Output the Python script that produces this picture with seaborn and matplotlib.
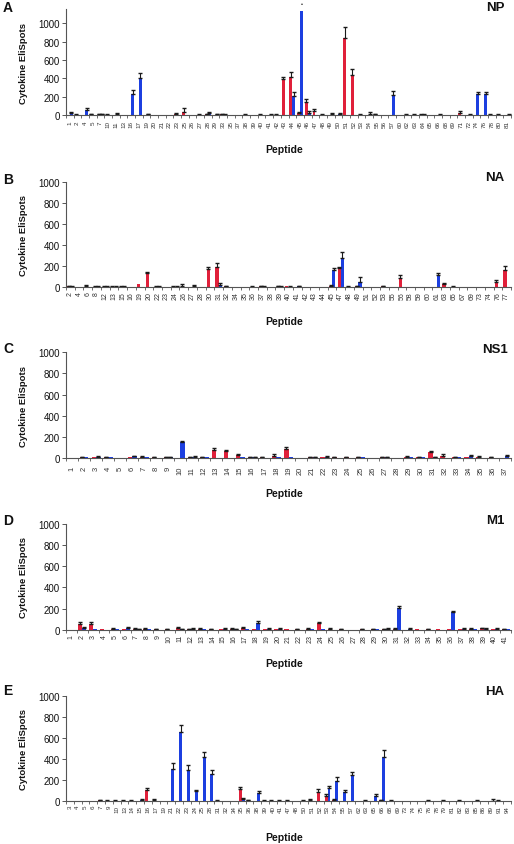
import numpy as np
import pandas as pd
import matplotlib
matplotlib.use("Agg")
import matplotlib.pyplot as plt
from matplotlib.ticker import FixedLocator
import seaborn as sns

# ---------------- DATA ----------------
np_labels = [1, 2, 4, 5, 7, 10, 11, 13, 16, 17, 19, 20, 21, 22, 23, 25, 26, 27, 28, 29,
             33, 35, 37, 38, 39, 40, 41, 42, 43, 44, 45, 46, 47, 48, 49, 50, 51, 52, 53, 54,
             55, 56, 57, 60, 62, 63, 64, 65, 66, 68, 69, 71, 72, 74, 76, 78, 80, 81]
np_red = [5, 5, 5, 10, 10, 5, 0, 0, 0, 0, 5, 0, 0, 0, 10, 40, 0, 5, 10, 5,
          10, 0, 0, 5, 0, 5, 5, 5, 390, 420, 25, 145, 50, 5, 0, 0, 845, 435, 5, 0,
          10, 0, 0, 0, 5, 5, 5, 0, 0, 0, 5, 20, 0, 0, 0, 5, 5, 0]
np_red_err = [0, 5, 0, 5, 5, 5, 0, 0, 0, 0, 0, 0, 0, 0, 10, 35, 0, 5, 5, 0,
              5, 0, 0, 10, 0, 5, 0, 5, 30, 50, 10, 35, 15, 5, 0, 0, 110, 65, 5, 0,
              5, 0, 0, 0, 5, 5, 5, 0, 0, 0, 0, 30, 0, 0, 0, 5, 5, 0]
np_blue = [20, 0, 60, 5, 10, 5, 10, 0, 230, 400, 10, 0, 0, 0, 5, 5, 0, 5, 20, 10,
           5, 0, 0, 5, 0, 0, 5, 0, 0, 210, 1130, 30, 5, 5, 10, 10, 0, 0, 0, 15,
           0, 5, 217, 0, 5, 0, 5, 0, 5, 0, 0, 0, 5, 228, 228, 0, 0, 5]
np_blue_err = [12, 0, 20, 0, 5, 0, 15, 0, 45, 65, 5, 0, 0, 0, 0, 0, 0, 0, 15, 5,
               5, 0, 0, 0, 0, 0, 5, 0, 0, 45, 0, 15, 0, 0, 10, 10, 0, 0, 0, 25,
               0, 0, 48, 0, 0, 0, 5, 0, 5, 0, 0, 0, 10, 25, 27, 0, 0, 5]

na_labels = [2, 4, 6, 8, 12, 13, 15, 16, 19, 20, 22, 23, 24, 26, 27, 28, 30, 31, 32, 34,
             35, 36, 37, 38, 39, 40, 41, 42, 43, 44, 45, 47, 48, 49, 51, 52, 53, 55, 56, 58,
             59, 60, 61, 63, 65, 67, 69, 73, 74, 76, 77]
na_red = [10, 0, 10, 5, 5, 5, 5, 0, 30, 135, 5, 0, 5, 15, 0, 5, 170, 190, 10, 0,
          0, 5, 10, 0, 10, 10, 0, 5, 0, 0, 10, 180, 5, 10, 0, 0, 10, 0, 88, 0,
          0, 0, 0, 30, 5, 0, 0, 0, 5, 50, 168]
na_red_err = [5, 0, 15, 5, 5, 5, 5, 0, 0, 15, 5, 0, 5, 15, 0, 0, 25, 45, 5, 0,
              0, 5, 5, 0, 5, 0, 0, 0, 0, 0, 10, 15, 5, 5, 0, 0, 5, 0, 30, 0,
              0, 0, 0, 15, 5, 0, 0, 0, 0, 22, 38]
na_blue = [5, 0, 5, 5, 5, 5, 5, 0, 0, 0, 5, 0, 5, 0, 10, 5, 0, 20, 5, 0,
           0, 5, 5, 0, 5, 5, 10, 0, 0, 0, 165, 276, 5, 54, 0, 0, 5, 0, 0, 0,
           0, 0, 117, 0, 5, 0, 0, 0, 5, 0, 0]
na_blue_err = [5, 0, 0, 5, 5, 5, 5, 0, 0, 0, 5, 0, 5, 0, 15, 0, 0, 18, 0, 0,
               0, 0, 5, 0, 5, 5, 5, 0, 0, 0, 20, 57, 0, 40, 0, 0, 0, 0, 0, 0,
               0, 0, 16, 0, 0, 0, 0, 0, 0, 0, 0]

ns1_labels = list(range(1, 38))
ns1_red = [0, 5, 5, 5, 0, 5, 10, 5, 5, 0, 5, 5, 76, 65, 30, 5, 5, 20, 85, 0,
           5, 5, 5, 5, 5, 0, 5, 0, 10, 5, 54, 20, 5, 5, 10, 5, 0]
ns1_red_err = [0, 5, 0, 5, 0, 0, 5, 5, 5, 0, 5, 5, 16, 12, 10, 5, 5, 15, 22, 0,
               5, 0, 5, 5, 5, 0, 5, 0, 10, 5, 15, 15, 5, 0, 10, 5, 0]
ns1_blue = [0, 5, 10, 5, 0, 15, 5, 0, 5, 150, 10, 5, 0, 0, 5, 5, 0, 5, 5, 0,
            5, 10, 0, 0, 5, 0, 5, 0, 5, 5, 5, 0, 5, 15, 0, 0, 15]
ns1_blue_err = [0, 0, 5, 0, 0, 5, 0, 0, 5, 15, 5, 0, 0, 0, 0, 5, 0, 0, 0, 0,
                5, 10, 0, 0, 0, 0, 5, 0, 0, 0, 5, 0, 0, 10, 0, 0, 15]

m1_labels = list(range(1, 42))
m1_red = [0, 55, 50, 5, 10, 5, 10, 10, 5, 5, 15, 5, 10, 5, 5, 10, 15, 5, 5, 5,
          5, 5, 10, 60, 10, 5, 0, 5, 5, 5, 10, 0, 5, 5, 5, 5, 5, 10, 15, 5, 5]
m1_red_err = [0, 15, 20, 0, 10, 0, 10, 10, 5, 5, 10, 5, 5, 5, 0, 5, 15, 0, 0, 0,
              0, 5, 5, 16, 10, 5, 0, 5, 5, 5, 10, 0, 0, 5, 0, 0, 0, 5, 5, 0, 5]
m1_blue = [0, 15, 10, 0, 5, 15, 5, 5, 0, 0, 5, 10, 5, 0, 10, 5, 5, 63, 10, 10,
           0, 0, 5, 5, 0, 0, 0, 0, 5, 10, 210, 10, 0, 0, 0, 163, 10, 5, 10, 10, 5]
m1_blue_err = [0, 10, 0, 0, 0, 15, 5, 0, 0, 0, 5, 10, 0, 0, 10, 5, 0, 19, 10, 10,
               0, 0, 0, 0, 0, 0, 0, 0, 0, 10, 17, 10, 0, 0, 0, 13, 10, 0, 5, 10, 0]

ha_labels = [3, 4, 5, 6, 7, 9, 10, 13, 14, 15, 16, 17, 19, 21, 22, 23, 24, 25, 28, 31,
             32, 34, 35, 36, 38, 39, 40, 41, 47, 48, 50, 51, 52, 53, 54, 55, 57, 62, 63, 65,
             66, 68, 69, 73, 74, 75, 76, 78, 79, 81, 82, 83, 85, 86, 89, 91, 94]
ha_red = [0, 3, 0, 0, 10, 5, 5, 5, 5, 0, 107, 10, 0, 0, 0, 0, 0, 0, 0, 5,
          0, 0, 117, 10, 0, 5, 5, 5, 5, 0, 5, 10, 91, 53, 10, 0, 0, 0, 5, 0,
          10, 0, 0, 0, 0, 0, 5, 0, 5, 0, 5, 0, 0, 0, 0, 5, 0]
ha_red_err = [0, 0, 0, 0, 5, 5, 5, 5, 5, 0, 16, 10, 0, 0, 0, 0, 0, 0, 0, 5,
              0, 0, 15, 5, 0, 5, 5, 5, 5, 0, 5, 15, 22, 16, 10, 0, 0, 0, 5, 0,
              5, 0, 0, 0, 0, 0, 5, 0, 5, 0, 5, 0, 0, 0, 0, 5, 0]
ha_blue = [0, 0, 0, 0, 5, 0, 5, 5, 0, 10, 5, 0, 0, 306, 653, 296, 95, 422, 258, 0,
           0, 0, 20, 5, 82, 0, 5, 0, 0, 0, 0, 0, 0, 126, 189, 91, 249, 0, 0, 50,
           422, 5, 0, 0, 0, 0, 0, 0, 0, 0, 0, 0, 5, 0, 5, 0, 0]
ha_blue_err = [0, 0, 0, 0, 0, 0, 0, 0, 0, 15, 0, 0, 0, 53, 72, 50, 15, 48, 38, 0,
               0, 0, 10, 0, 13, 0, 0, 0, 0, 0, 0, 0, 0, 16, 38, 16, 31, 0, 0, 19,
               63, 10, 0, 0, 0, 0, 0, 0, 0, 0, 0, 0, 10, 0, 15, 0, 0]

panel_letters = ["A", "B", "C", "D", "E"]
panel_titles = ["NP", "NA", "NS1", "M1", "HA"]
y_ticks = [0, 200, 400, 600, 800, 1000]
series_names = ["red", "blue"]
# --------------------------------------

RED = "#e0203a"
BLUE = "#1c3fe0"

sns.set_theme(style="white")
plt.rcParams['font.family'] = ['Liberation Sans', 'DejaVu Sans']

W, H = 514, 845
fig = plt.figure(figsize=(W / 100, H / 100), dpi=100)

datasets = [
    (np_labels, np_red, np_red_err, np_blue, np_blue_err),
    (na_labels, na_red, na_red_err, na_blue, na_blue_err),
    (ns1_labels, ns1_red, ns1_red_err, ns1_blue, ns1_blue_err),
    (m1_labels, m1_red, m1_red_err, m1_blue, m1_blue_err),
    (ha_labels, ha_red, ha_red_err, ha_blue, ha_blue_err),
]
# layout in pixels: (axis bottom, axis top, letter y, title y, xlabel y)
layout = [
    (116.3, 10.0, 8, 8, 150),
    (288.3, 183.3, 180, 178, 321.7),
    (459.0, 353.3, 349, 350, 494),
    (630.7, 525.0, 521, 521, 664),
    (802.3, 696.7, 691, 692, 838),
]
ytops = [1155, 1000, 1000, 1000, 1000]
tick_fs = [4.5, 5.0, 5.4, 5.0, 4.5]
tick_pad = [3.5, 3.0, 5.5, 3.0, 2.5]

ax_left, ax_right = 66, 511

for i, ((labels, red, red_err, blue, blue_err), (bot, top, ly, ty, xly)) in enumerate(zip(datasets, layout)):
    ax = fig.add_axes([ax_left / W, 1 - bot / H, (ax_right - ax_left) / W, (bot - top) / H])
    lab = [str(v) for v in labels]
    n = len(lab)
    df = pd.DataFrame({
        "Peptide": lab * 2,
        "value": list(red) + list(blue),
        "group": [series_names[0]] * n + [series_names[1]] * n,
    })
    sns.barplot(data=df, x="Peptide", y="value", hue="group", order=lab,
                hue_order=series_names, palette={"red": RED, "blue": BLUE},
                width=0.74, saturation=1, errorbar=None, legend=False, ax=ax,
                linewidth=0, edgecolor="none")
    # error bars (upper only)
    for cont, vals, errs in zip(ax.containers, [red, blue], [red_err, blue_err]):
        xs = np.array([p.get_x() + p.get_width() / 2 for p in cont])
        vals = np.asarray(vals, float)
        errs = np.asarray(errs, float)
        m = errs > 0
        if m.any():
            ax.errorbar(xs[m], vals[m], yerr=[np.zeros(m.sum()), errs[m]], fmt="none",
                        ecolor="#1a1a1a", elinewidth=0.8, capsize=1.5, capthick=1.0)
    if i == 0:
        # marker above the tallest bar
        cont = ax.containers[1]
        j = int(np.argmax(blue))
        p = cont[j]
        ax.text(p.get_x() + p.get_width() / 2, 1215, "•", ha="center", va="center",
                fontsize=4, color="#111111", clip_on=False)

    ax.set_xlim(-0.5, n - 0.5)
    ax.set_ylim(0, ytops[i])
    ax.set_yticks(y_ticks)
    ax.set_yticklabels([str(t) for t in y_ticks], fontsize=7, color="#111111")
    ax.tick_params(axis="y", length=3, width=0.7, color="#555555", pad=1.5, left=True)
    ax.set_xticks(range(n))
    ax.set_xticklabels(lab, rotation=90, fontsize=tick_fs[i], color="#333333")
    ax.tick_params(axis="x", which="major", length=0, pad=tick_pad[i], bottom=False)
    ax.xaxis.set_minor_locator(FixedLocator(np.arange(n + 1) - 0.5))
    ax.tick_params(axis="x", which="minor", length=2.5, width=0.6, color="#555555", bottom=True)

    for s in ["top", "right"]:
        ax.spines[s].set_visible(False)
    for s in ["left", "bottom"]:
        ax.spines[s].set_color("#555555")
        ax.spines[s].set_linewidth(0.8)

    ax.set_ylabel("Cytokine EliSpots", fontsize=6.8, fontweight="bold", color="#111111")
    ax.yaxis.set_label_coords((24 - ax_left) / (ax_right - ax_left), 0.5)
    ax.yaxis.label.set_va("center")
    ax.set_xlabel("Peptide", fontsize=7.5, fontweight="bold", color="#111111")
    ax.xaxis.set_label_coords((284.5 - ax_left) / (ax_right - ax_left), (bot - xly) / (bot - top))
    ax.xaxis.label.set_va("center")

    fig.text(8 / W, 1 - ly / H, panel_letters[i], ha="center", va="center",
             fontsize=10, fontweight="bold", color="#111111")
    fig.text(495 / W, 1 - ty / H, panel_titles[i], ha="center", va="center",
             fontsize=9.5, fontweight="bold", color="#111111")

fig.savefig("out.png", dpi=100)
